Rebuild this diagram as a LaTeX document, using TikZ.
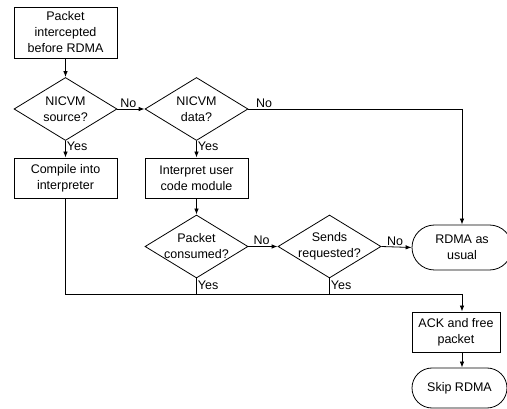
\documentclass[tikz,border=0pt]{standalone}
\usepackage{fontspec}
\setmainfont{Liberation Sans}
\usetikzlibrary{shapes.geometric,shapes.misc,arrows.meta}
\begin{document}
\begin{tikzpicture}[x=1pt,y=-1pt,
  fnt/.style={font=\fontsize{12.5}{16}\selectfont},
  box/.style={draw, rectangle, line width=0.8pt, inner sep=0pt, align=center, fnt, minimum width=103pt},
  dia/.style={draw, diamond, line width=0.8pt, inner sep=0pt, minimum width=103pt, minimum height=63pt},
  txt/.style={align=center, fnt, inner sep=0pt},
  term/.style={draw, rounded rectangle, line width=0.8pt, inner sep=0pt, align=center, fnt},
  conn/.style={line width=0.8pt},
  arr/.style={conn, -{Latex[length=6pt,width=4.5pt]}},
  lab/.style={fnt, inner sep=1pt}]
\useasboundingbox (0,0) rectangle (507,409);

\node[box, minimum height=51pt] (start) at (65.5,32.5) {Packet\\intercepted\\before RDMA};
\node[dia] (d1) at (65.5,109) {};
\node[txt] (t1) at (d1) {NICVM\\source?};
\node[dia] (d2) at (196.5,109) {};
\node[txt] (t2) at (d2) {NICVM\\data?};
\node[box, minimum height=40pt] (comp) at (65.5,178) {Compile into\\interpreter};
\node[box, minimum height=40pt] (interp) at (196.5,178) {Interpret user\\code module};
\node[dia] (d3) at (196.5,246.5) {};
\node[txt] (t3) at (d3) {Packet\\consumed?};
\node[dia] (d4) at (329.5,246.5) {};
\node[txt] (t4) at (d4) {Sends\\requested?};
\node[term, minimum width=100pt, minimum height=45pt] (rdma) at (462,247.5) {RDMA as\\usual};
\node[box, minimum width=88pt, minimum height=40pt] (ack) at (456,332) {ACK and free\\packet};
\node[term, minimum width=95pt, minimum height=40pt] (skip) at (459.5,388) {Skip RDMA};

\coordinate (rt) at (462,109);
\coordinate (j0) at (65.5,294);
\coordinate (j1) at (462,294);
\coordinate (sk) at (462,388);

\draw[arr] (start) -- (d1);
\draw[arr] (d1.east) -- node[lab, above, pos=0.4] {No} (d2.west);
\draw[arr] (d1.south) -- node[lab, right, pos=0.35] {Yes} (comp.north);
\draw[arr] (d2.south) -- node[lab, right, pos=0.35] {Yes} (interp.north);
\draw[conn] (d2.east) -- node[lab, above, pos=0.03, anchor=south west] {No} (rt);
\draw[arr] (rt) -- (rdma.north);
\draw[arr] (interp.south) -- (d3.north);
\draw[arr] (d3.east) -- node[lab, above, pos=0.45] {No} (d4.west);
\draw[arr] (d4.east) -- node[lab, above, pos=0.45] {No} (rdma.west);
\draw[conn] (comp.south) -- (j0) -- (j1);
\draw[arr] (j1) -- (j1 |- ack.north);
\draw[conn] (d3.south) -- node[lab, right, pos=0.45] {Yes} (d3.south |- j0);
\draw[conn] (d4.south) -- node[lab, right, pos=0.45] {Yes} (d4.south |- j0);
\draw[arr] (sk |- ack.south) -- (sk |- skip.north);
\end{tikzpicture}
\end{document}
